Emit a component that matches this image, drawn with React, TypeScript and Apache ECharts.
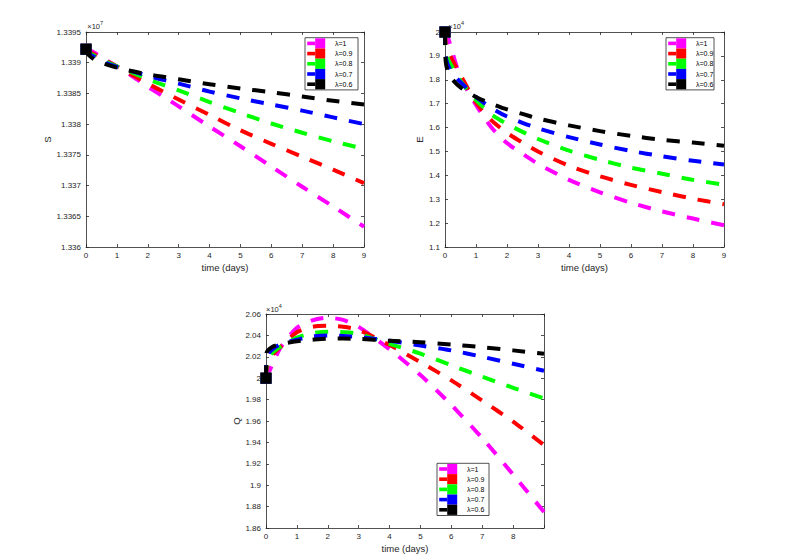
import React, { useEffect, useRef } from "react";
import * as echarts from "echarts";

// time axis (days)
const T = [0, 0.02, 0.1, 0.25, 0.5, 1, 1.5, 2, 2.5, 3, 4, 5, 6, 7, 8, 9];
const lambdaLabels = ["λ=1", "λ=0.9", "λ=0.8", "λ=0.7", "λ=0.6"];
const lineColors = ["#FF00FF", "#FF0000", "#00FF00", "#0000FF", "#000000"];
const xTicks = [0, 1, 2, 3, 4, 5, 6, 7, 8, 9];

// S (x 10^7)
const S_l1 = [1.33922, 1.33921, 1.3392, 1.33917, 1.33909, 1.33894, 1.33878, 1.33861, 1.33845, 1.33829, 1.33796, 1.33764, 1.33731, 1.33698, 1.33666, 1.33633];
const S_l09 = [1.33922, 1.3392, 1.33918, 1.33914, 1.33907, 1.33894, 1.3388, 1.33866, 1.33853, 1.3384, 1.33815, 1.3379, 1.33768, 1.33747, 1.33726, 1.33704];
const S_l08 = [1.33922, 1.33919, 1.33916, 1.33912, 1.33905, 1.33894, 1.33884, 1.33873, 1.33864, 1.33855, 1.33836, 1.33818, 1.33801, 1.33786, 1.33772, 1.3376];
const S_l07 = [1.33922, 1.33918, 1.33914, 1.3391, 1.33903, 1.33893, 1.33886, 1.33879, 1.33872, 1.33866, 1.33853, 1.33842, 1.33832, 1.33822, 1.33811, 1.338];
const S_l06 = [1.33922, 1.33917, 1.33912, 1.33906, 1.339, 1.33892, 1.33886, 1.33881, 1.33877, 1.33873, 1.33865, 1.33858, 1.33852, 1.33845, 1.33838, 1.33832];

// E (x 10^4)
const E_l1 = [2.0, 1.995, 1.975, 1.91, 1.81, 1.695, 1.6, 1.535, 1.49, 1.448, 1.381, 1.329, 1.285, 1.249, 1.219, 1.191];
const E_l09 = [2.0, 1.96, 1.92, 1.88, 1.82, 1.705, 1.63, 1.578, 1.537, 1.5, 1.44, 1.396, 1.36, 1.33, 1.302, 1.279];
const E_l08 = [2.0, 1.93, 1.885, 1.85, 1.795, 1.715, 1.655, 1.615, 1.582, 1.552, 1.503, 1.465, 1.432, 1.407, 1.381, 1.361];
const E_l07 = [2.0, 1.9, 1.86, 1.825, 1.79, 1.728, 1.682, 1.646, 1.62, 1.597, 1.56, 1.529, 1.502, 1.48, 1.461, 1.445];
const E_l06 = [2.0, 1.88, 1.83, 1.8, 1.768, 1.728, 1.7, 1.676, 1.657, 1.638, 1.609, 1.585, 1.565, 1.549, 1.537, 1.524];

// Q (x 10^4)
const Q_l1 = [2.0, 2.001, 2.006, 2.016, 2.03, 2.047, 2.054, 2.0565, 2.0545, 2.048, 2.027, 2.003, 1.975, 1.944, 1.91, 1.875];
const Q_l09 = [2.0, 2.008, 2.016, 2.023, 2.03, 2.043, 2.048, 2.049, 2.048, 2.045, 2.031, 2.015, 1.998, 1.979, 1.9595, 1.9375];
const Q_l08 = [2.0, 2.012, 2.02, 2.025, 2.03, 2.038, 2.042, 2.0435, 2.043, 2.0415, 2.032, 2.023, 2.012, 2.0015, 1.991, 1.981];
const Q_l07 = [2.0, 2.018, 2.024, 2.028, 2.032, 2.036, 2.039, 2.04, 2.0395, 2.0385, 2.035, 2.0305, 2.026, 2.02, 2.0135, 2.007];
const Q_l06 = [2.0, 2.024, 2.027, 2.03, 2.032, 2.0345, 2.036, 2.037, 2.037, 2.0367, 2.035, 2.0336, 2.0315, 2.029, 2.026, 2.0228];

const S_series = [S_l1, S_l09, S_l08, S_l07, S_l06];
const E_series = [E_l1, E_l09, E_l08, E_l07, E_l06];
const Q_series = [Q_l1, Q_l09, Q_l08, Q_l07, Q_l06];

const FONT = "'Liberation Sans', Arial, Helvetica, sans-serif";
const AX = "#262626";

const plots = [
  { name: "S", data: S_series, grid: { left: 86, top: 32, width: 278, height: 215 }, yMin: 1.336, yMax: 1.3395, yInt: 0.0005, dec: 4, nameGap: 34, exp: "7", expX: 87.3, expY: 26, hide9: false, legend: { x: 305, y: 37.7, w: 53 } },
  { name: "E", data: E_series, grid: { left: 445, top: 32, width: 279, height: 215 }, yMin: 1.1, yMax: 2.0, yInt: 0.1, dec: 1, nameGap: 21, exp: "4", expX: 448.3, expY: 26.7, hide9: false, legend: { x: 666, y: 37.7, w: 48 } },
  { name: "Q", data: Q_series, grid: { left: 266, top: 314, width: 278, height: 214 }, yMin: 1.86, yMax: 2.06, yInt: 0.02, dec: 2, nameGap: 25, exp: "4", expX: 266, expY: 309, hide9: true, legend: { x: 437, y: 463.3, w: 52 } },
];

export default function App() {
  const ref = useRef<HTMLDivElement>(null);
  useEffect(() => {
    if (!ref.current) return;
    const chart = echarts.init(ref.current, undefined, { renderer: "svg" });
    const grids: any[] = [];
    const xAxes: any[] = [];
    const yAxes: any[] = [];
    const series: any[] = [];
    const graphics: any[] = [];

    plots.forEach((p, g) => {
      grids.push({ ...p.grid, containLabel: false });
      const lineStyle = { color: AX, width: 0.8 };
      const tick = { show: true, inside: true, length: 3, lineStyle };
      xAxes.push({
        gridIndex: g, type: "value", position: "bottom", min: xTicks[0], max: xTicks[xTicks.length - 1], interval: 1,
        axisLine: { show: true, onZero: false, lineStyle }, axisTick: tick, splitLine: { show: false },
        axisLabel: { margin: 4, fontSize: 8, color: AX, fontFamily: FONT,
          formatter: (v: number) => (p.hide9 && v === 9 ? "" : String(v)) },
        name: "time (days)", nameLocation: "middle", nameGap: 15,
        nameTextStyle: { fontSize: 9.5, color: AX, fontFamily: FONT },
      });
      xAxes.push({
        gridIndex: g, type: "value", position: "top", min: 0, max: 9, interval: 1,
        axisLine: { show: true, onZero: false, lineStyle }, axisTick: tick, splitLine: { show: false },
        axisLabel: { show: false },
      });
      yAxes.push({
        gridIndex: g, type: "value", position: "left", min: p.yMin, max: p.yMax, interval: p.yInt,
        axisLine: { show: true, onZero: false, lineStyle }, axisTick: tick, splitLine: { show: false },
        axisLabel: { margin: 5, fontSize: 8, color: AX, fontFamily: FONT,
          formatter: (v: number) => String(+v.toFixed(p.dec)) },
        name: p.name, nameLocation: "middle", nameGap: p.nameGap, nameRotate: 90,
        nameTextStyle: { fontSize: 9.5, color: AX, fontFamily: FONT },
      });
      yAxes.push({
        gridIndex: g, type: "value", position: "right", min: p.yMin, max: p.yMax, interval: p.yInt,
        axisLine: { show: true, onZero: false, lineStyle }, axisTick: tick, splitLine: { show: false },
        axisLabel: { show: false },
      });

      p.data.forEach((vals, i) => {
        series.push({
          type: "line", name: lambdaLabels[i],
          xAxisIndex: 2 * g, yAxisIndex: 2 * g,
          data: T.map((t, k) => [t, vals[k]]),
          smooth: 0.25,
          symbol: "rect",
          symbolSize: (_v: any, params: any) => (params.dataIndex === 0 ? 11 : 0),
          showSymbol: true,
          clip: false,
          itemStyle: { color: lineColors[i] },
          lineStyle: { color: lineColors[i], width: 4, type: [13, 12], cap: "butt", join: "round" },
          z: 2 + i,
        });
      });

      // exponent label
      graphics.push({ type: "text", x: p.expX, y: p.expY, z: 0,
        style: { text: "×10", fontSize: 7.5, fontFamily: FONT, fill: AX, verticalAlign: "middle", align: "left" } });
      graphics.push({ type: "text", x: p.expX + 12.7, y: p.expY - 3.3, z: 0,
        style: { text: p.exp, fontSize: 5.5, fontFamily: FONT, fill: AX, verticalAlign: "middle", align: "left" } });

      // legend box
      const L = p.legend;
      const rowH = 10.2;
      graphics.push({ type: "rect", z: 20, shape: { x: L.x, y: L.y, width: L.w, height: rowH * 5 + 1.2 },
        style: { fill: "#ffffff", stroke: AX, lineWidth: 0.8 } });
      lambdaLabels.forEach((lab, i) => {
        const top = L.y + 0.6 + i * rowH;
        const cy = top + rowH / 2;
        graphics.push({ type: "rect", z: 21, shape: { x: L.x + 2.2, y: cy - 1.8, width: 8, height: 3.6 },
          style: { fill: lineColors[i] } });
        graphics.push({ type: "rect", z: 21, shape: { x: L.x + 10.2, y: top, width: 10, height: rowH },
          style: { fill: lineColors[i] } });
        graphics.push({ type: "text", z: 21, x: L.x + 30, y: cy,
          style: { text: lab, fontSize: 7, fontFamily: FONT, fill: "#000", verticalAlign: "middle", align: "left" } });
      });
    });

    chart.setOption({
      animation: false,
      backgroundColor: "#ffffff",
      grid: grids,
      xAxis: xAxes,
      yAxis: yAxes,
      series,
      graphic: { elements: graphics },
    });
    return () => chart.dispose();
  }, []);
  return <div ref={ref} style={{ position: "absolute", left: 0, top: 0, width: 785, height: 560 }} />;
}
